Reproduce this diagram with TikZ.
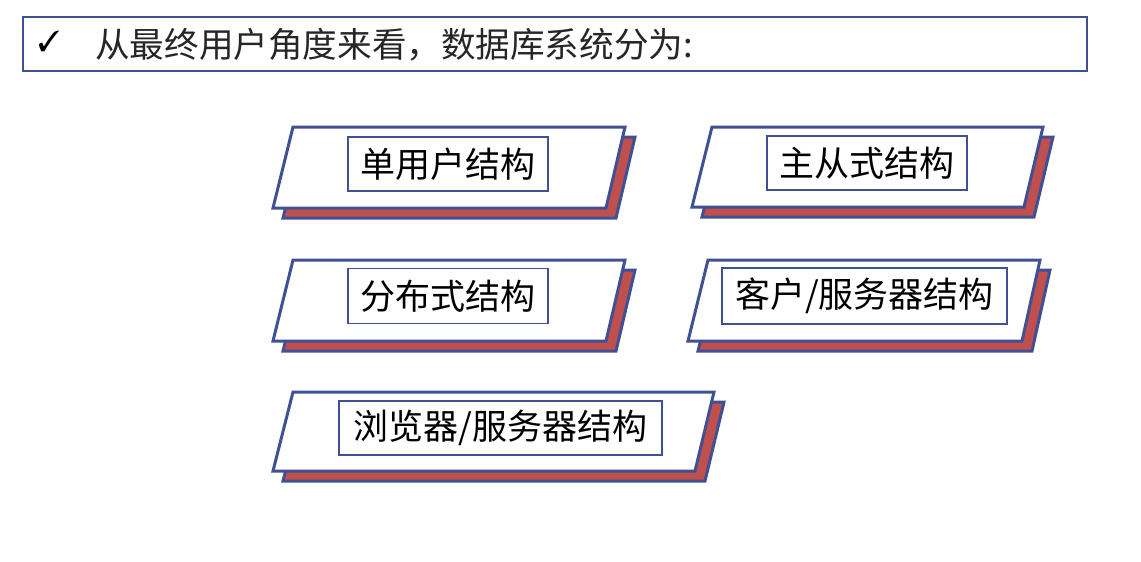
\documentclass[tikz,border=0pt]{standalone}
\usepackage{fontspec}
\setmainfont{Noto Sans CJK SC}
\usepackage{pifont}
\definecolor{bordblue}{RGB}{63,81,148}
\definecolor{shadred}{RGB}{192,80,77}
\tikzset{
  cardface/.style={draw=bordblue, line width=3pt, fill=white, line join=miter},
  cardshadow/.style={draw=bordblue, line width=3pt, fill=shadred, line join=miter},
  tbox/.style={draw=bordblue, line width=1.8pt, fill=white, inner sep=0pt,
    font=\fontsize{35}{40}\selectfont, text=black},
  headbox/.style={draw=bordblue, line width=2pt},
}
% #1 TL x, #2 TR x, #3 BR x, #4 BL x, #5 top y, #6 bottom y
\newcommand\mycard[6]{%
  \draw[cardshadow, shift={(10,10)}] (#1,#5) -- (#2,#5) -- (#3,#6) -- (#4,#6) -- cycle;
  \draw[cardface] (#1,#5) -- (#2,#5) -- (#3,#6) -- (#4,#6) -- cycle;
}
\begin{document}
\begin{tikzpicture}[x=1pt,y=-1pt]
\useasboundingbox (0,0) rectangle (1141,562);
\fill[white] (0,0) rectangle (1141,562);
% header
\draw[headbox] (23,17) rectangle (1087,71);
\node (check) at (49,41) {\fontsize{29}{32}\selectfont\ding{51}};
\node[anchor=west, inner sep=0pt, text=black!85, font=\fontsize{34.6}{40}\selectfont] (title) at (95,45) {从最终用户角度来看，数据库系统分为:};
% cards
\mycard{293}{625}{606}{273}{127}{208}
\node[tbox, minimum width=200pt, minimum height=54pt] (c1) at (448,164) {单用户结构};
\mycard{712}{1043}{1024}{692}{127}{207}
\node[tbox, minimum width=200pt, minimum height=54pt] (c2) at (867,163) {主从式结构};
\mycard{293}{625}{606}{273}{260}{341}
\node[tbox, minimum width=200pt, minimum height=55pt] (c3) at (448,296) {分布式结构};
\mycard{708}{1040}{1022}{688}{260}{341}
\node[tbox, minimum width=285pt, minimum height=56pt] (c4) at (864.5,296) {客户/服务器结构};
\mycard{293}{714}{695}{273}{392}{471}
\node[tbox, minimum width=323pt, minimum height=54pt] (c5) at (500.5,428) {浏览器/服务器结构};
\end{tikzpicture}
\end{document}
